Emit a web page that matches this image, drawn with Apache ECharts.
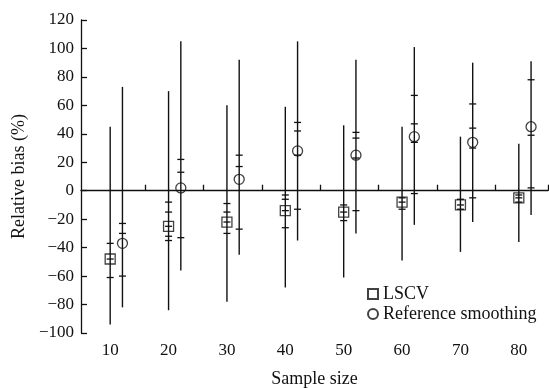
<!DOCTYPE html>
<html>
<head>
<meta charset="utf-8">
<script src="https://cdn.jsdelivr.net/npm/echarts@6/dist/echarts.min.js"></script>
<style>
  html, body { margin: 0; padding: 0; background: #fff; }
  #main { width: 549px; height: 388px; }
</style>
</head>
<body>
<div id="main"></div>
<script>
// sample sizes and x tick positions
var sampleSizes = [10, 20, 30, 40, 50, 60, 70, 80];
var xTicks = [16, 26, 36, 46, 56, 66, 76, 85];
var refOffset = 2.1;

// LSCV
var lscvMean = [-48, -25, -22, -14, -15, -8, -10, -5];
var lscvMin = [-94, -84, -78, -68, -61, -49, -43, -36];
var lscvMax = [45, 70, 60, 59, 46, 45, 38, 33];
var lscvTicks = [
  [-37, -48, -61],
  [-8, -15, -25, -32, -35],
  [-9, -15, -22, -30],
  [-3, -6, -14, -26],
  [-10, -15, -21],
  [-5, -8, -13],
  [-6, -10, -13],
  [-3, -5, -8]
];

// Reference smoothing
var refMean = [-37, 2, 8, 28, 25, 38, 34, 45];
var refMin = [-82, -56, -45, -35, -30, -24, -22, -17];
var refMax = [73, 105, 92, 105, 92, 101, 90, 91];
var refTicks = [
  [-23, -30, -60],
  [22, 13, -33],
  [25, 17, -27],
  [48, 42, 25, -13],
  [41, 37, 23, -14],
  [67, 47, 34, -2],
  [61, 44, 30, -5],
  [78, 39, 2]
];

var chart = echarts.init(document.getElementById('main'));

function whisker(minArr, maxArr, ticks) {
  return function (params, api) {
    var i = params.dataIndex;
    var x = api.value(0);
    var top = api.coord([x, maxArr[i]]);
    var bot = api.coord([x, minArr[i]]);
    var children = [{
      type: 'line',
      shape: { x1: top[0], y1: top[1], x2: bot[0], y2: bot[1] },
      style: { stroke: '#111', lineWidth: 1.4 }
    }];
    ticks[i].forEach(function (t) {
      var p = api.coord([x, t]);
      children.push({
        type: 'line',
        shape: { x1: p[0] - 3.5, y1: p[1], x2: p[0] + 3.5, y2: p[1] },
        style: { stroke: '#111', lineWidth: 1.3 }
      });
    });
    return { type: 'group', children: children };
  };
}

var font = 'Liberation Serif';

var option = {
  animation: false,
  grid: { left: 81, right: 1, top: 20, bottom: 55, outerBoundsMode: 'none' },
  legend: {
    orient: 'vertical',
    left: 362,
    top: 280,
    itemGap: 2,
    itemWidth: 10,
    itemHeight: 10,
    textStyle: { fontFamily: font, fontSize: 18, color: '#111' },
    data: [
      { name: 'LSCV', icon: 'rect' },
      { name: 'Reference smoothing', icon: 'circle' }
    ],
    selectedMode: false
  },
  xAxis: {
    type: 'value',
    min: 5,
    max: 85,
    name: 'Sample size',
    nameLocation: 'middle',
    nameGap: 37,
    nameTextStyle: { fontFamily: font, fontSize: 18, color: '#111' },
    axisLine: { lineStyle: { color: '#111', width: 1.3 } },
    axisTick: { inside: true, length: 6, customValues: xTicks, lineStyle: { color: '#111', width: 1.3 } },
    axisLabel: { customValues: sampleSizes, fontFamily: font, fontSize: 17, color: '#111', margin: 9 },
    splitLine: { show: false }
  },
  yAxis: {
    type: 'value',
    min: -100,
    max: 120,
    interval: 20,
    name: 'Relative bias (%)',
    nameLocation: 'middle',
    nameGap: 52,
    nameTextStyle: { fontFamily: font, fontSize: 18, color: '#111' },
    axisLine: { show: true, lineStyle: { color: '#111', width: 1.3 } },
    axisTick: { show: true, inside: true, length: 6, lineStyle: { color: '#111', width: 1.3 } },
    axisLabel: {
      fontFamily: font, fontSize: 17, color: '#111', margin: 7,
      formatter: function (v) { return String(v).replace('-', '\u2212'); }
    },
    splitLine: { show: false }
  },
  series: [
    {
      name: 'LSCV whisker',
      type: 'custom',
      renderItem: whisker(lscvMin, lscvMax, lscvTicks),
      encode: { x: 0, y: [1, 2] },
      data: sampleSizes.map(function (s, i) { return [s, lscvMin[i], lscvMax[i]]; }),
      z: 3
    },
    {
      name: 'Reference whisker',
      type: 'custom',
      renderItem: whisker(refMin, refMax, refTicks),
      encode: { x: 0, y: [1, 2] },
      data: sampleSizes.map(function (s, i) { return [s + refOffset, refMin[i], refMax[i]]; }),
      z: 3
    },
    {
      name: 'LSCV',
      type: 'scatter',
      symbol: 'rect',
      symbolSize: 10,
      itemStyle: { color: 'rgba(0,0,0,0)', borderColor: '#111', borderWidth: 1.3 },
      data: sampleSizes.map(function (s, i) { return [s, lscvMean[i]]; }),
      z: 4,
      markLine: {
        silent: true,
        symbol: 'none',
        label: { show: false },
        lineStyle: { color: '#111', type: [1.5, 1.5], width: 1 },
        data: [{ yAxis: 0 }]
      }
    },
    {
      name: 'Reference smoothing',
      type: 'scatter',
      symbol: 'circle',
      symbolSize: 10,
      itemStyle: { color: 'rgba(0,0,0,0)', borderColor: '#111', borderWidth: 1.3 },
      data: sampleSizes.map(function (s, i) { return [s + refOffset, refMean[i]]; }),
      z: 4
    }
  ]
};

chart.setOption(option);
</script>
</body>
</html>
